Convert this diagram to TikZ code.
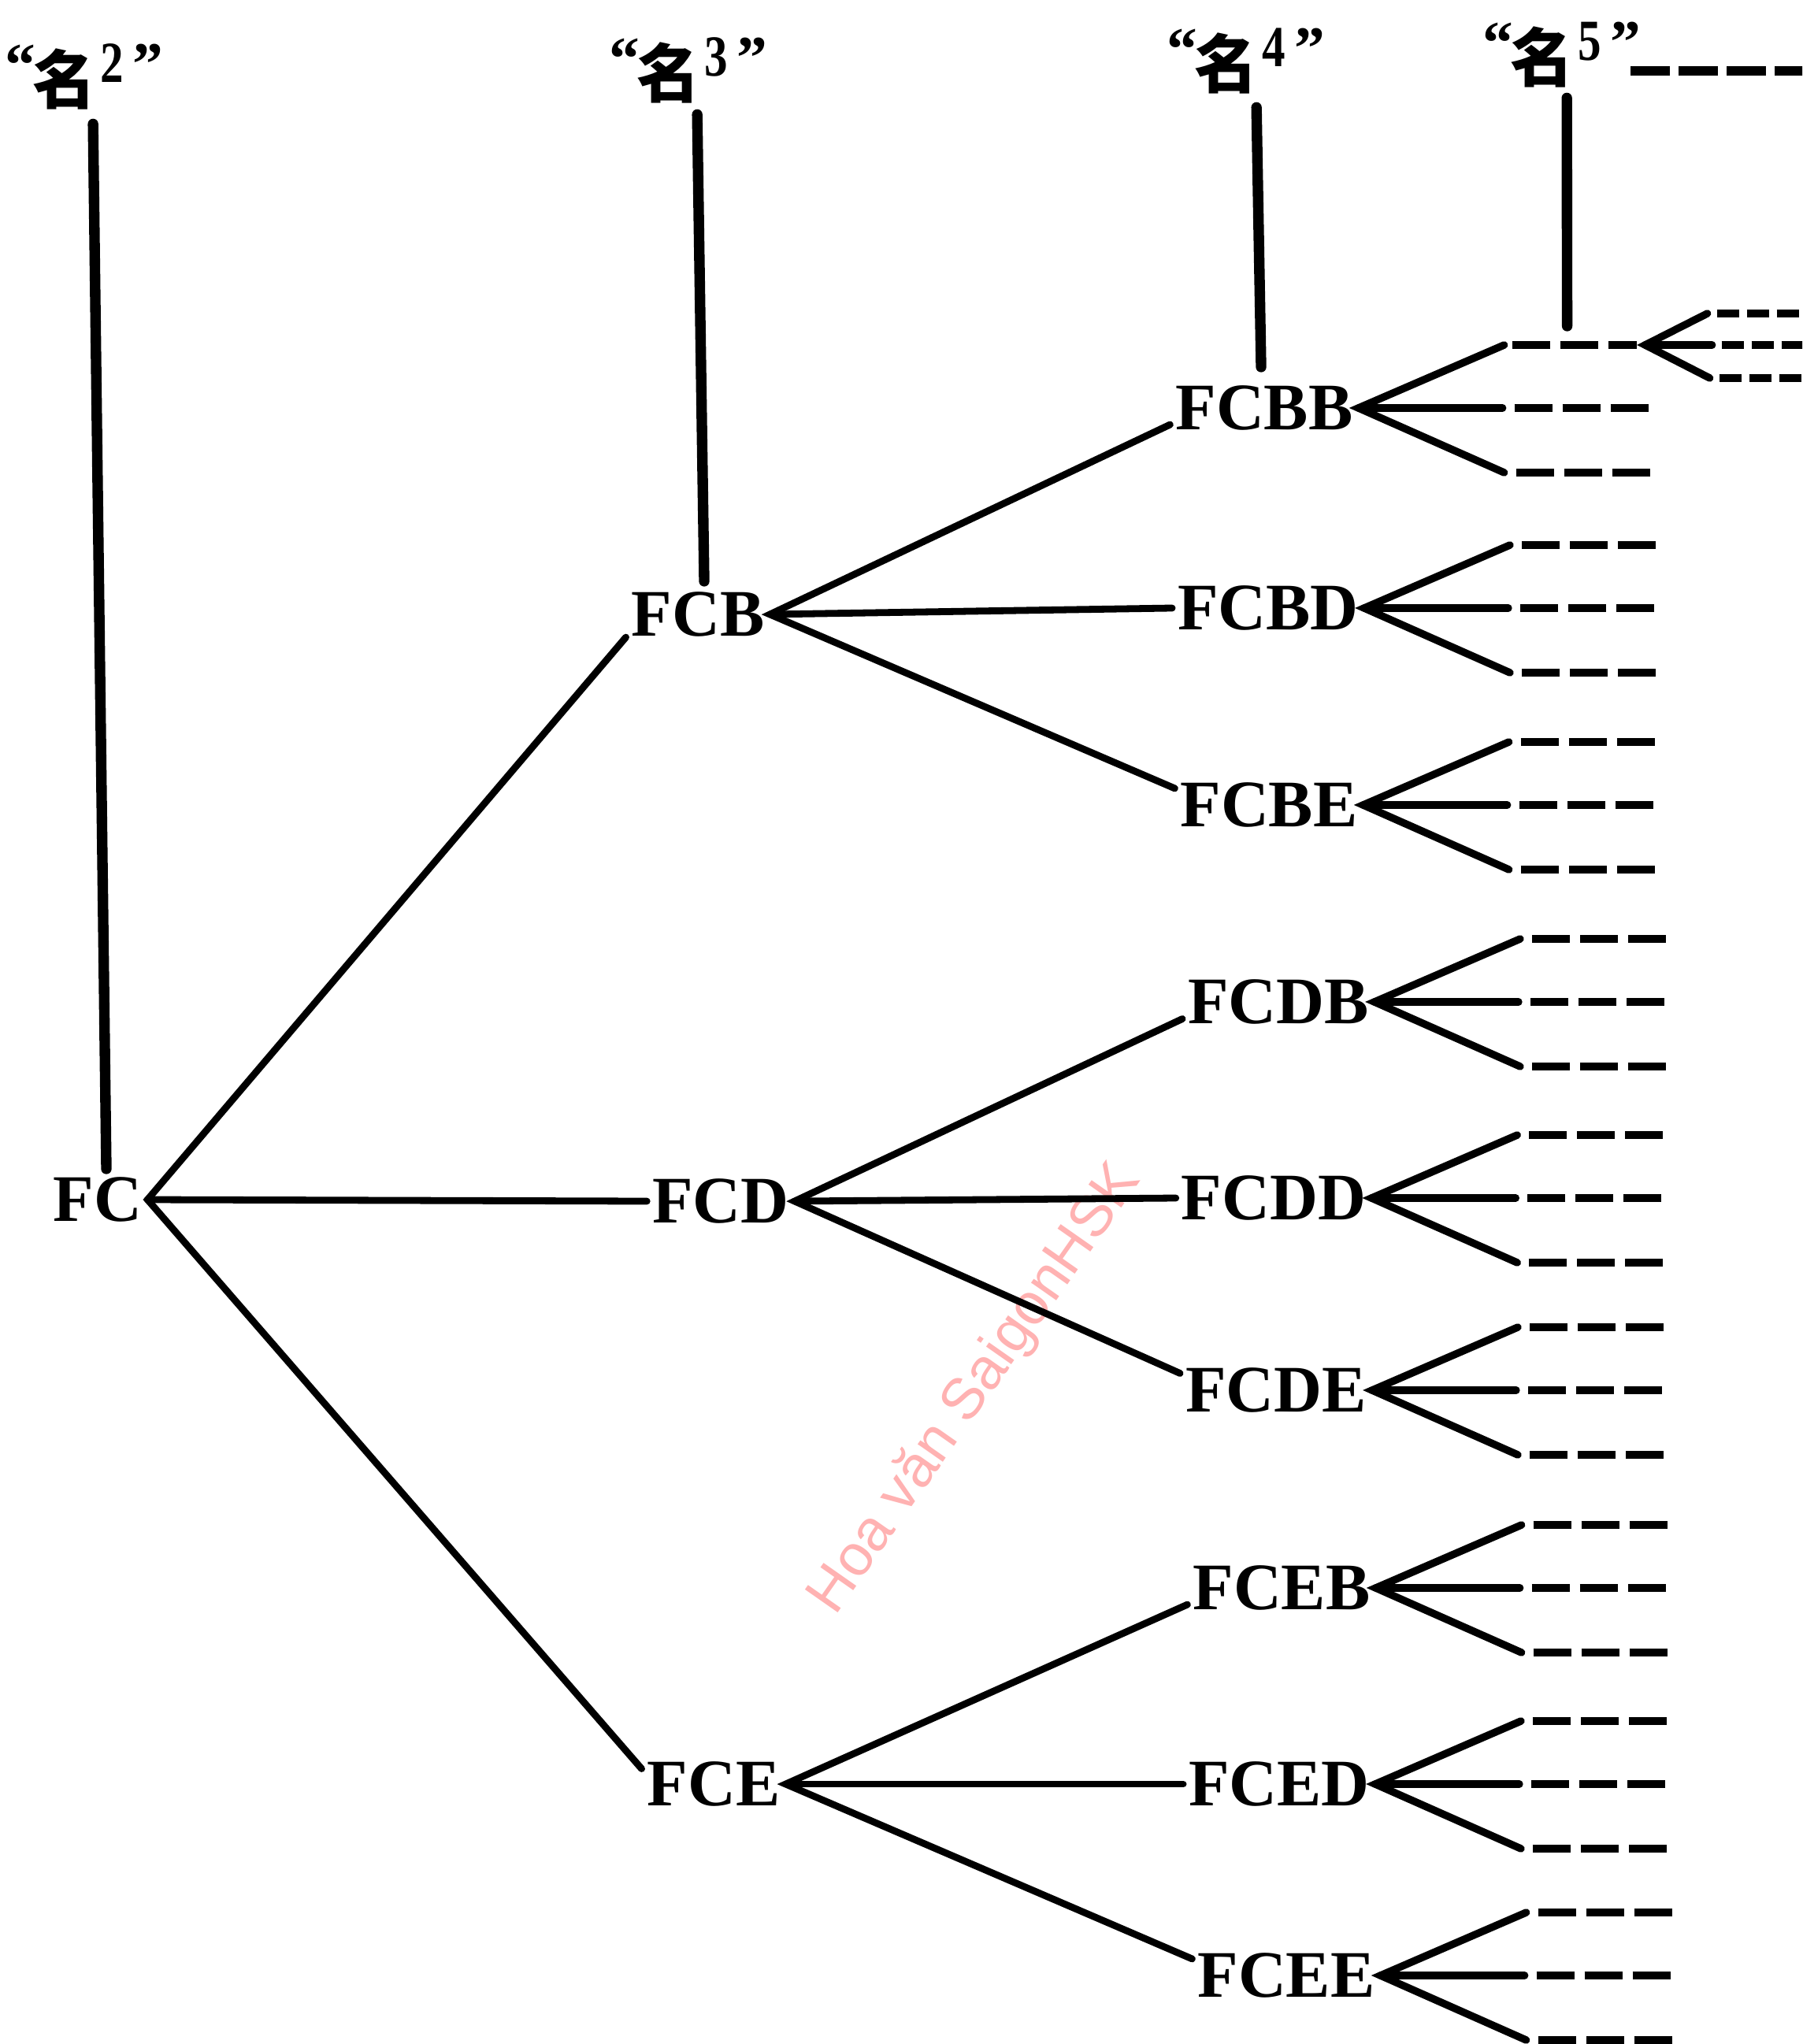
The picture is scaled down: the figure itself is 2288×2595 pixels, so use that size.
\documentclass[tikz,border=0pt]{standalone}
\usepackage{fontspec}
\usepackage{graphicx}
\setmainfont{Liberation Serif}
\newfontfamily\cjk{Noto Sans CJK SC}
\newfontfamily\wmfont{Liberation Sans}
\usetikzlibrary{calc}

\begin{document}
\begin{tikzpicture}[x=0.01cm, y=-0.01cm,
  lbl/.style={inner xsep=1.8pt, inner ysep=0pt, font=\fontsize{24}{24}\selectfont\bfseries},
  nm/.style={inner sep=0pt, font=\fontsize{23}{23}\selectfont\cjk\bfseries},
  qt/.style={inner sep=0pt, anchor=north, font=\fontsize{22}{22}\selectfont\bfseries},
  digit/.style={inner sep=0pt, anchor=north, font=\fontsize{21}{21}\selectfont\bfseries},
  edge/.style={line width=2.5pt, line join=miter, line cap=round},
  riser/.style={line width=3.8pt, line cap=round},
  stub/.style={line width=2.7pt, line join=miter, line cap=round},
  dashfive/.style={line width=3pt, dash pattern=on 0.48cm off 0.13cm},
  dashsix/.style={line width=2.8pt, dash pattern=on 0.28cm off 0.10cm},
  dashtop/.style={line width=3.2pt, dash pattern=on 0.50cm off 0.11cm},
]
\clip (0,0) rectangle (2288,2595);
\fill[white] (0,0) rectangle (2288,2595);

% watermark
\node[rotate=55, anchor=base west, inner sep=0pt, text=red!30,
      font=\wmfont\fontsize{21}{21}\selectfont] (wm) at (1060,2053) {Hoa văn SaigonHSK};

% column headings
\foreach \k/\px/\py in {2/82/100, 3/849/92, 4/1557/80, 5/1958/72} {
  \node[nm] (n\k) at (\px,\py) {名};
  \node[qt] (qa\k) at ($(n\k)+(-56,-44)$) {“};
  \node[digit] (s\k) at ($(n\k)+(60,-45)$) {\scalebox{0.8}[1]{\k}};
  \node[qt] (qb\k) at ($(n\k)+(106,-45)$) {”};
}

% tree nodes
\node[lbl] (FC)   at (124,1523) {FC};
\node[lbl] (FCB)  at (886,780)  {FCB};
\node[lbl] (FCD)  at (915,1525) {FCD};
\node[lbl] (FCE)  at (906,2265) {FCE};
\node[lbl] (FCBB) at (1605,518)  {FCBB};
\node[lbl] (FCBD) at (1610,772)  {FCBD};
\node[lbl] (FCBE) at (1611,1022) {FCBE};
\node[lbl] (FCDB) at (1623,1272) {FCDB};
\node[lbl] (FCDD) at (1617,1521) {FCDD};
\node[lbl] (FCDE) at (1620,1765) {FCDE};
\node[lbl] (FCEB) at (1627,2016) {FCEB};
\node[lbl] (FCED) at (1624,2265) {FCED};
\node[lbl] (FCEE) at (1633,2508) {FCEE};

% branches
\draw[edge] (FCB.south west) -- (FC.east) -- (FCE.168);
\draw[edge] (FC.east) -- (FCD.west);
\foreach \p/\a/\b/\c in {FCB/FCBB/FCBD/FCBE, FCD/FCDB/FCDD/FCDE, FCE/FCEB/FCED/FCEE} {
  \draw[edge] (\a.190) -- (\p.east) -- (\c.170);
  \draw[edge] (\p.east) -- (\b.west);
}

% open branches of the last level
\foreach \n in {FCBB,FCBD,FCBE,FCDB,FCDD,FCDE,FCEB,FCED,FCEE} {
  \coordinate (\n-u) at ($(\n.east)+(185,-80)$);
  \coordinate (\n-m) at ($(\n.east)+(183,0)$);
  \coordinate (\n-d) at ($(\n.east)+(185,82)$);
  \draw[stub] (\n-u) -- (\n.east) -- (\n-d);
  \draw[stub] (\n.east) -- (\n-m);
  \draw[dashfive] ($(\n-m)+(15,0)$) -- ++(170,0);
  \draw[dashfive] ($(\n-d)+(15,0)$) -- ++(170,0);
}
\foreach \n in {FCBD,FCBE,FCDB,FCDD,FCDE,FCEB,FCED,FCEE} {
  \draw[dashfive] ($(\n-u)+(15,0)$) -- ++(170,0);
}

% the branch of FCBB that runs on to the next level
\coordinate (x6) at ($(FCBB-u)+(179,0)$);
\draw[dashfive] ($(FCBB-u)+(10,0)$) -- ($(x6)+(-11,0)$);
\coordinate (x6u) at ($(x6)+(79,-40)$);
\coordinate (x6m) at ($(x6)+(85,0)$);
\coordinate (x6d) at ($(x6)+(82,42)$);
\draw[stub] (x6u) -- (x6) -- (x6d);
\draw[stub] (x6) -- (x6m);
\foreach \e in {x6u,x6m,x6d} {
  \draw[dashsix] ($(\e)+(12,0)$) -- ++(160,0);
}

% level markers
\draw[riser] ($(n2.south east)+(-5,18)$) -- ($(FC.north)+(11,-10)$);
\draw[riser] ($(n3.south east)+(-5,14)$) -- ($(FCB.north)+(8,-13)$);
\draw[riser] ($(n4.south east)+(-3,17)$) -- ($(FCBB.north)+(-4,-23)$);
\draw[riser] ($(n5.south east)+(-10,13)$) -- ($(FCBB-u)+(80,-24)$);
\draw[dashtop] ($(n5)+(112,18)$) -- ($(n5)+(360,18)$);
\end{tikzpicture}
\end{document}
